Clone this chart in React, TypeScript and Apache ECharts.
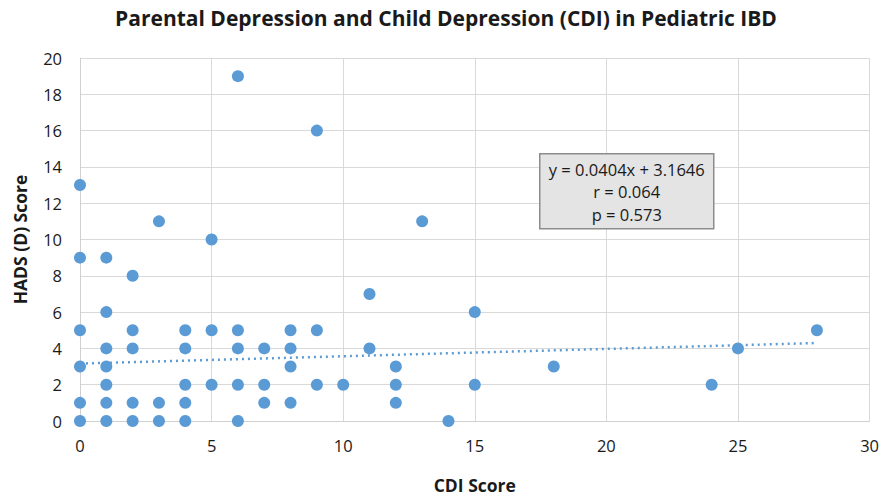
import React, { useEffect, useRef } from "react";
import * as echarts from "echarts";

const cdiScores = [
  0, 0, 0, 0, 0, 0,
  1, 1, 1, 1, 1, 1, 1,
  2, 2, 2, 2, 2,
  3, 3, 3,
  4, 4, 4, 4, 4,
  5, 5, 5,
  6, 6, 6, 6, 6,
  7, 7, 7,
  8, 8, 8, 8,
  9, 9, 9,
  10,
  11, 11,
  12, 12, 12,
  13,
  14,
  15, 15,
  18,
  24,
  25,
  28,
];
const hadsScores = [
  13, 9, 5, 3, 1, 0,
  9, 6, 4, 3, 2, 1, 0,
  8, 5, 4, 1, 0,
  11, 1, 0,
  5, 4, 2, 1, 0,
  10, 5, 2,
  19, 5, 4, 2, 0,
  4, 2, 1,
  5, 4, 3, 1,
  16, 5, 2,
  2,
  7, 4,
  3, 2, 1,
  11,
  0,
  6, 2,
  3,
  2,
  4,
  5,
];
const slope = 0.0404;
const intercept = 3.1646;
const trendRange = [0, 28];
const statLines = ["y = 0.0404x + 3.1646", "r = 0.064", "p = 0.573"];

const FONT = "Open Sans";
const BLUE = "#5B9BD5";

export default function App() {
  const ref = useRef<HTMLDivElement>(null);
  useEffect(() => {
    if (!ref.current) return;
    const chart = echarts.init(ref.current, null, { renderer: "svg" });
    const points = cdiScores.map((x, i) => [x, hadsScores[i]]);
    const trend = trendRange.map((x) => [x, slope * x + intercept]);
    chart.setOption({
      animation: false,
      backgroundColor: "#ffffff",
      title: {
        text: "Parental Depression and Child Depression (CDI) in Pediatric IBD",
        left: 441,
        textAlign: "center",
        top: 2,
        textStyle: { fontFamily: FONT, fontSize: 21, fontWeight: "bold", color: "#1a1a1a" },
      },
      grid: { left: 80, right: 11, top: 58, bottom: 77, containLabel: false },
      xAxis: {
        type: "value",
        min: 0,
        max: 30,
        interval: 5,
        name: "CDI Score",
        nameLocation: "middle",
        nameGap: 55,
        nameTextStyle: { fontFamily: FONT, fontSize: 17.5, fontWeight: "bold", color: "#1a1a1a" },
        axisLine: { show: true, lineStyle: { color: "#d0d0d0", width: 1 } },
        axisTick: { show: false },
        axisLabel: { fontFamily: FONT, fontSize: 16.5, color: "#1a1a1a", margin: 16 },
        splitLine: { show: true, lineStyle: { color: "#d9d9d9", width: 1 } },
      },
      yAxis: {
        type: "value",
        min: 0,
        max: 20,
        interval: 2,
        name: "HADS (D) Score",
        nameLocation: "middle",
        nameGap: 51,
        nameRotate: 90,
        nameTextStyle: { fontFamily: FONT, fontSize: 17.5, fontWeight: "bold", color: "#1a1a1a" },
        axisLine: { show: true, lineStyle: { color: "#d0d0d0", width: 1 } },
        axisTick: { show: false },
        axisLabel: { fontFamily: FONT, fontSize: 16.5, color: "#1a1a1a", margin: 18 },
        splitLine: { show: true, lineStyle: { color: "#d9d9d9", width: 1 } },
      },
      series: [
        {
          type: "line",
          data: trend,
          symbol: "none",
          lineStyle: { color: BLUE, width: 2.5, type: [2, 4] },
          z: 1,
        },
        {
          type: "scatter",
          data: points,
          symbolSize: 12,
          itemStyle: { color: BLUE, opacity: 1 },
          z: 2,
        },
      ],
      graphic: [
        {
          type: "group",
          left: 539,
          top: 153,
          z: 100,
          children: [
            {
              type: "rect",
              z: 100,
              shape: { x: 0, y: 0, width: 174, height: 75 },
              style: { fill: "#e4e4e4", stroke: "#8c8c8c", lineWidth: 1.5 },
            },
            {
              type: "text",
              z: 101,
              x: 87,
              y: 4,
              style: {
                text: statLines.join("\n"),
                fontFamily: FONT,
                fontSize: 16.5,
                lineHeight: 22.5,
                fill: "#1a1a1a",
                align: "center",
              },
            },
          ],
        },
      ],
    });
    return () => chart.dispose();
  }, []);
  return <div ref={ref} style={{ width: 882, height: 499, position: "absolute", left: 0, top: 0 }} />;
}
